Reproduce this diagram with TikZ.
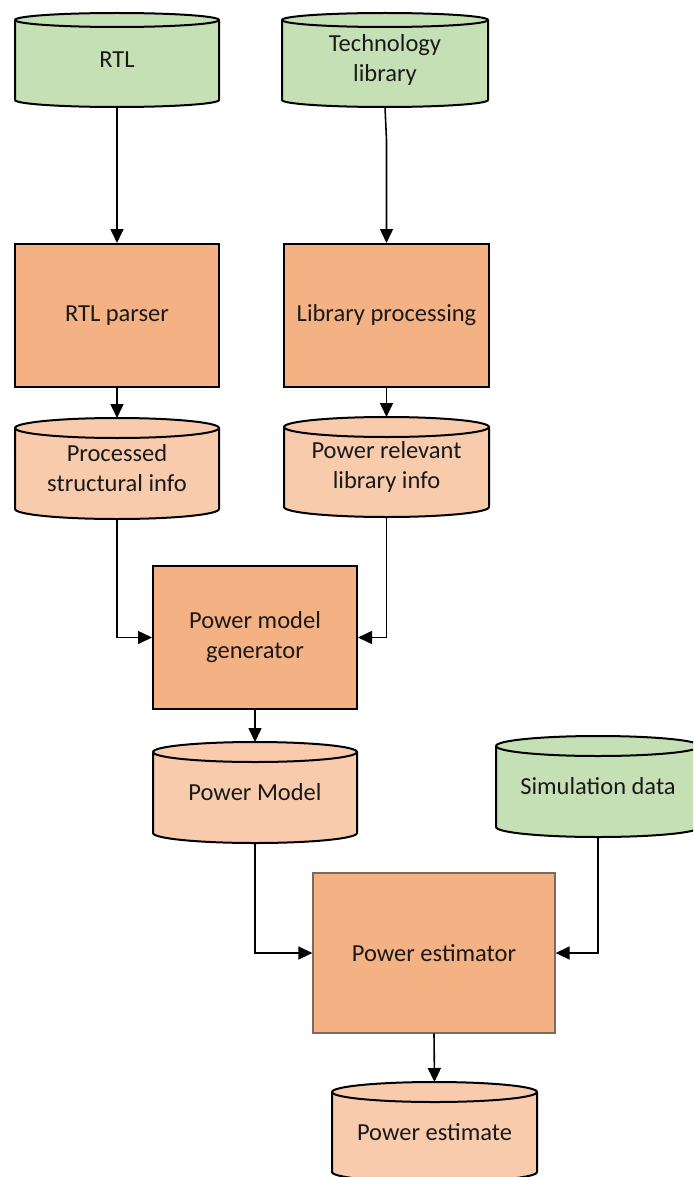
\documentclass[tikz,border=0pt]{standalone}
\usepackage{fontspec}
\setmainfont{Carlito}
\usetikzlibrary{arrows.meta}

\definecolor{storegreen}{HTML}{C5E0B4}
\definecolor{procorange}{HTML}{F4B183}
\definecolor{storepeach}{HTML}{F8CBAD}
\definecolor{estedge}{RGB}{125,105,95}

\tikzset{
  labelfont/.style={font=\fontsize{24.5}{30}\selectfont, text=black!90},
  procbox/.style={draw=black, line width=2pt, fill=procorange, align=center,
    inner sep=0pt, labelfont},
  storelabel/.style={inner sep=0pt, outer sep=0pt, align=center, labelfont},
  storeedge/.style={line width=2pt, draw=black},
  flow/.style={line width=1.6pt, -{Triangle[length=14pt,width=13pt]}},
}

% data store drawn as a can: name, centre x, centre y, width, height, ellipse ry, fill, text
\newcommand\datastore[8]{%
  \pgfmathsetmacro\dsrx{#4/2}%
  \pgfmathsetmacro\dsl{#2-\dsrx}%
  \pgfmathsetmacro\dsr{#2+\dsrx}%
  \pgfmathsetmacro\dst{#3+#5/2-#6}%
  \pgfmathsetmacro\dsb{#3-#5/2+#6}%
  \filldraw[storeedge, fill=#7] (\dsl,\dst) -- (\dsl,\dsb)
    arc[start angle=180, end angle=360, x radius=\dsrx pt, y radius=#6pt]
    -- (\dsr,\dst)
    arc[start angle=0, end angle=180, x radius=\dsrx pt, y radius=#6pt] -- cycle;
  \draw[storeedge] (\dsl,\dst)
    arc[start angle=180, end angle=360, x radius=\dsrx pt, y radius=#6pt];
  \node[storelabel, minimum width=#4pt, minimum height=#5pt] (#1) at (#2,#3) {#8};
}

\begin{document}
\begin{tikzpicture}[x=1pt, y=1pt]
  \clip (0,0) rectangle (693,-1177);
  \fill[white] (0,0) rectangle (693,-1177);

  % inputs
  \datastore{rtl}{117}{-60}{204}{94}{7}{storegreen}{RTL}
  \datastore{tech}{385}{-60}{206}{94}{7}{storegreen}{Technology\\library}

  % processing steps
  \node[procbox, minimum width=204pt, minimum height=143pt] (rtlparse) at (117,-315.5) {RTL parser};
  \node[procbox, minimum width=205pt, minimum height=143pt] (libproc) at (386.5,-315.5) {Library processing};

  % intermediate data
  \datastore{proc}{117}{-468.5}{204}{101}{10}{storepeach}{Processed\\structural info}
  \datastore{prl}{386.5}{-467}{205}{100}{10}{storepeach}{Power relevant\\library info}

  \node[procbox, minimum width=204pt, minimum height=143pt] (pmg) at (255,-637.5) {Power model\\generator};

  \datastore{pm}{255}{-792.5}{204}{101}{10}{storepeach}{Power Model}
  \datastore{sim}{598}{-786.5}{204}{101}{10}{storegreen}{Simulation data}

  \node[procbox, draw=estedge, line width=1.3pt, minimum width=242pt, minimum height=160pt] (pest) at (434,-953) {Power estimator};

  \datastore{pe}{434.5}{-1132}{205}{100}{10}{storepeach}{Power estimate}

  % connectors
  \draw[flow] (rtl.south) -- (rtlparse.north);
  \draw[flow] (tech.south) -- ++(1.5,-33) -- (libproc.north);
  \draw[flow] (rtlparse.south) -- (proc.north);
  \draw[flow] (libproc.south) -- (prl.north);
  \draw[flow] (proc.south) |- (pmg.west);
  \draw[flow] (prl.south) |- (pmg.east);
  \draw[flow] (pmg.south) -- (pm.north);
  \draw[flow] (pm.south) |- (pest.west);
  \draw[flow] (sim.south) |- (pest.east);
  \draw[flow] (pest.south) -- (pe.north);
\end{tikzpicture}
\end{document}
